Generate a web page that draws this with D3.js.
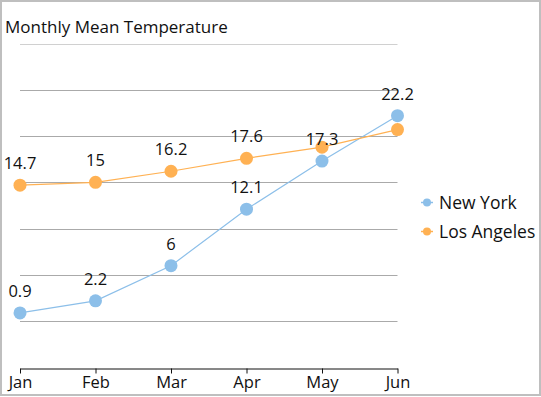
<!DOCTYPE html>
<html>
<head>
<meta charset="utf-8">
<script src="https://cdn.jsdelivr.net/npm/d3@7"></script>
<style>
  html, body { margin: 0; padding: 0; background: #fff; }
  svg { display: block; font-family: 'Segoe UI', 'Open Sans', sans-serif; }
</style>
</head>
<body>
<svg id="chart" width="541" height="397"></svg>
<script>
// Chart data
const months = ['Jan', 'Feb', 'Mar', 'Apr', 'May', 'Jun'];
const newYork = [0.9, 2.2, 6, 12.1, 17.3, 22.2];
const losAngeles = [14.7, 15, 16.2, 17.6, 18.8, 20.7];
const seriesNames = ['New York', 'Los Angeles'];
const yTicks = [0, 5, 10, 15, 20, 25, 30];

const colors = ['#8cbfe9', '#ffb153'];

const width = 541;
const height = 397;

const svg = d3.select('#chart');

// outer border
svg.append('rect')
  .attr('x', 1).attr('y', 1)
  .attr('width', width - 2).attr('height', height - 3)
  .attr('fill', '#fff')
  .attr('stroke', '#bfbfbf')
  .attr('stroke-width', 2);

// title
svg.append('text')
  .attr('x', 5)
  .attr('y', 33)
  .style('font-size', '17px')
  .style('fill', '#111')
  .text('Monthly Mean Temperature');

const x = d3.scalePoint()
  .domain(months)
  .range([20, 397.5]);

const y = d3.scaleLinear()
  .domain([-5, 30])
  .range([367.5, 43.5]);

// gridlines
svg.append('g')
  .attr('class', 'grid')
  .selectAll('line')
  .data(yTicks)
  .enter()
  .append('line')
  .attr('x1', 20)
  .attr('x2', 397.5)
  .attr('y1', d => Math.round(y(d)) + 0.5)
  .attr('y2', d => Math.round(y(d)) + 0.5)
  .attr('stroke', (d, i) => i === yTicks.length - 1 ? '#d0d0d0' : '#aaaaaa')
  .attr('stroke-width', 1);

// x axis
const axis = svg.append('g')
  .attr('transform', `translate(0,${Math.round(y(-5)) + 0.5})`)
  .call(d3.axisBottom(x).tickSize(5).tickSizeOuter(0));
axis.select('.domain').attr('stroke', '#111');
axis.selectAll('.tick line').attr('stroke', '#111');
axis.selectAll('.tick text')
  .attr('y', 8)
  .attr('dy', '0.71em')
  .style('font-size', '16.5px')
  .style('font-family', "'Segoe UI', 'Open Sans', sans-serif")
  .style('fill', '#111');

const series = [newYork, losAngeles];

// lines
const line = d3.line()
  .x((d, i) => x(months[i]))
  .y(d => y(d));

svg.append('g')
  .selectAll('path')
  .data(series)
  .enter()
  .append('path')
  .attr('d', d => line(d))
  .attr('fill', 'none')
  .attr('stroke', (d, i) => colors[i])
  .attr('stroke-width', 1.2);

// markers
series.forEach((values, s) => {
  svg.append('g')
    .selectAll('circle')
    .data(values)
    .enter()
    .append('circle')
    .attr('cx', (d, i) => x(months[i]))
    .attr('cy', d => y(d))
    .attr('r', 6.5)
    .attr('fill', colors[s]);
});

// data labels, first series wins when labels collide
const labelLayer = svg.append('g');
const placed = [];
series.forEach((values, s) => {
  values.forEach((v, i) => {
    const t = labelLayer.append('text')
      .attr('x', x(months[i]))
      .attr('y', y(v) - 16)
      .attr('text-anchor', 'middle')
      .style('font-size', '16.5px')
      .style('fill', '#111')
      .text(v);
    const b = t.node().getBBox();
    const hit = placed.some(p =>
      b.x < p.x + p.width && p.x < b.x + b.width &&
      b.y < p.y + p.height && p.y < b.y + b.height);
    if (hit) t.remove();
    else placed.push(b);
  });
});

// legend
const legend = svg.append('g')
  .selectAll('g')
  .data(seriesNames)
  .enter()
  .append('g')
  .attr('transform', (d, i) => `translate(427,${202.5 + i * 29})`);

legend.append('line')
  .attr('x1', -6).attr('x2', 6)
  .attr('stroke', (d, i) => colors[i])
  .attr('stroke-width', 1.5);

legend.append('circle')
  .attr('r', 4)
  .attr('fill', (d, i) => colors[i]);

legend.append('text')
  .attr('x', 12)
  .attr('dy', '0.35em')
  .style('font-size', '17.5px')
  .style('fill', '#111')
  .text(d => d);
</script>
</body>
</html>
